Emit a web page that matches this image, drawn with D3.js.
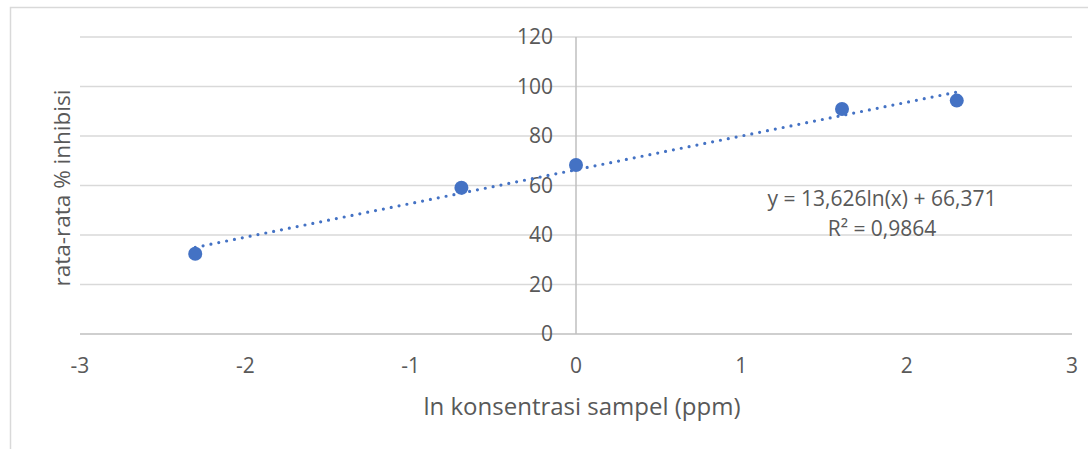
<!DOCTYPE html>
<html lang="id">
<head>
<meta charset="UTF-8">
<title>rata-rata % inhibisi</title>
<script src="https://d3js.org/d3.v7.min.js"></script>
<style>
    body{
        margin: 0;
        background: #fff;
    }
    text{
        font-family: "Open Sans", sans-serif;
        fill: #595959;
    }
</style>
</head>
<body>
<div id="grafik"></div>
<script>
    // data: ln konsentrasi vs rata-rata % inhibisi
    const lnKonsentrasi = [-2.303, -0.693, 0, 1.609, 2.303]
    const inhibisi = [32.4, 59.1, 68.3, 90.9, 94.3]
    const xTicks = [-3, -2, -1, 0, 1, 2, 3]
    const yTicks = [0, 20, 40, 60, 80, 100, 120]
    const slope = 13.626
    const intercept = 66.371
    const eqLabels = ['y = 13,626ln(x) + 66,371', 'R² = 0,9864']

    const W = 1088, H = 449

    var svg = d3.select('#grafik')
        .append('svg')
        .attr('width', W)
        .attr('height', H)

    // chart border
    svg.append('path')
        .attr('d', 'M10.5,' + H + ' V7.5 H' + W)
        .attr('fill', 'none')
        .attr('stroke', '#d9d9d9')
        .attr('stroke-width', 1.5)

    const x = d3.scaleLinear().domain([-3, 3]).range([80, 1072])
    const y = d3.scaleLinear().domain([0, 120]).range([334, 37])

    // gridlines
    svg.append('g')
        .selectAll('line')
        .data(yTicks.filter(d => d > 0))
        .enter()
        .append('line')
        .attr('x1', x(-3))
        .attr('x2', x(3))
        .attr('y1', d => y(d))
        .attr('y2', d => y(d))
        .attr('stroke', '#d9d9d9')
        .attr('stroke-width', 1.5)

    // x axis line at y=0
    svg.append('line')
        .attr('x1', x(-3)).attr('x2', x(3))
        .attr('y1', y(0)).attr('y2', y(0))
        .attr('stroke', '#bfbfbf')
        .attr('stroke-width', 1.5)

    // y axis line at x=0
    svg.append('line')
        .attr('x1', x(0)).attr('x2', x(0))
        .attr('y1', y(120)).attr('y2', y(0))
        .attr('stroke', '#bfbfbf')
        .attr('stroke-width', 1.5)

    // tick labels
    svg.append('g')
        .selectAll('text')
        .data(yTicks)
        .enter()
        .append('text')
        .attr('x', x(0) - 23)
        .attr('y', d => y(d))
        .attr('dy', '0.35em')
        .attr('text-anchor', 'end')
        .style('font-size', '21px')
        .text(d => d)

    svg.append('g')
        .selectAll('text')
        .data(xTicks)
        .enter()
        .append('text')
        .attr('x', d => x(d))
        .attr('y', 366)
        .attr('dy', '0.35em')
        .attr('text-anchor', 'middle')
        .style('font-size', '21px')
        .text(d => d)

    // axis titles
    svg.append('text')
        .attr('x', 582)
        .attr('y', 407)
        .attr('dy', '0.35em')
        .attr('text-anchor', 'middle')
        .style('font-size', '24px')
        .text('ln konsentrasi sampel (ppm)')

    svg.append('text')
        .attr('transform', 'translate(62, 188) rotate(-90)')
        .attr('dy', '0.35em')
        .attr('text-anchor', 'middle')
        .style('font-size', '22.5px')
        .text('rata-rata % inhibisi')

    // trendline
    const x0 = d3.min(lnKonsentrasi), x1 = d3.max(lnKonsentrasi)
    svg.append('line')
        .attr('x1', x(x0))
        .attr('y1', y(slope * x0 + intercept))
        .attr('x2', x(x1))
        .attr('y2', y(slope * x1 + intercept))
        .attr('stroke', '#4472c4')
        .attr('stroke-width', 3.2)
        .attr('stroke-linecap', 'round')
        .attr('stroke-dasharray', '0,8')

    // points
    svg.append('g')
        .selectAll('circle')
        .data(lnKonsentrasi)
        .enter()
        .append('circle')
        .attr('cx', d => x(d))
        .attr('cy', (d, i) => y(inhibisi[i]))
        .attr('r', 7)
        .attr('fill', '#4472c4')

    // equation label
    svg.append('g')
        .selectAll('text')
        .data(eqLabels)
        .enter()
        .append('text')
        .attr('x', 882)
        .attr('y', (d, i) => 199 + i * 30)
        .attr('dy', '0.35em')
        .attr('text-anchor', 'middle')
        .style('font-size', '21px')
        .text(d => d)
</script>
</body>
</html>
